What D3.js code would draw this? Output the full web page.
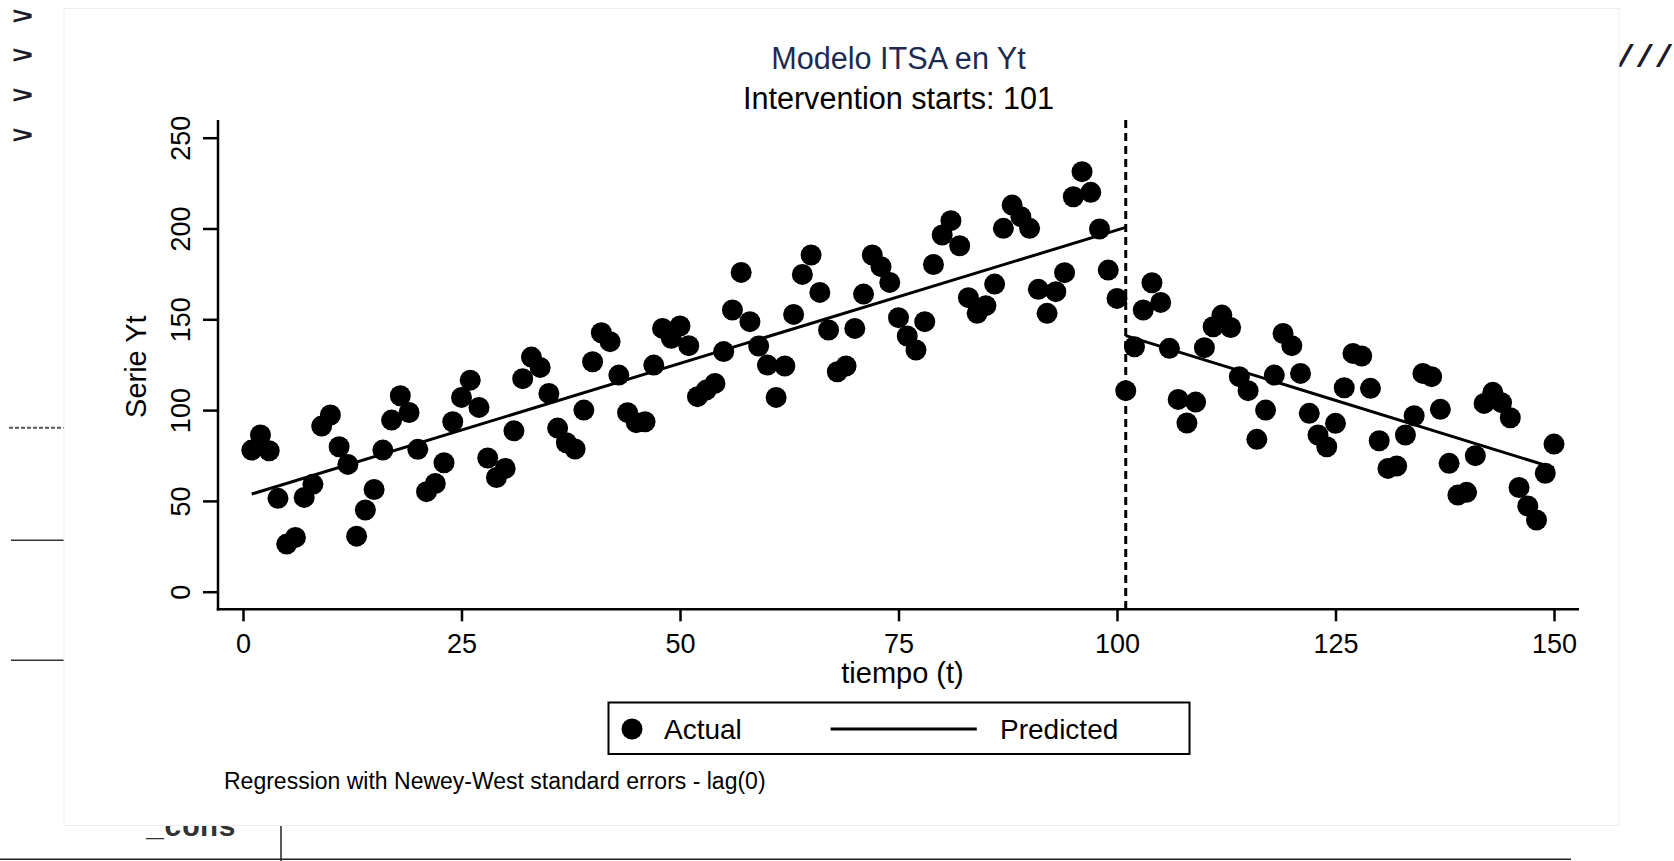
<!DOCTYPE html>
<html>
<head>
<meta charset="utf-8">
<script src="https://cdn.jsdelivr.net/npm/d3@7"></script>
<style>
  html, body { margin: 0; padding: 0; background: #ffffff; }
  svg { display: block; }
  text { font-family: "Liberation Sans", Arial, Helvetica, sans-serif; }
  .console { font-family: "Liberation Mono", "DejaVu Sans Mono", monospace; font-weight: bold; }
  .prompt { font-family: "Liberation Sans", Arial, sans-serif; font-weight: bold; }
</style>
</head>
<body>
<svg id="chart" width="1674" height="861"></svg>
<script>
// ---- data -------------------------------------------------------------
// Observed series Yt, one value per period t = 1..150
const actualYt = [
  78.0, 86.3, 77.6, 51.4, 26.2, 29.9, 51.9, 59.1, 91.2, 97.3,
  79.8, 70.1, 30.6, 45.0, 56.3, 78.0, 94.5, 107.9, 98.7, 78.4,
  55.1, 59.6, 71.0, 93.6, 107.0, 116.5, 101.5, 73.6, 62.9, 67.9,
  88.6, 117.3, 129.2, 123.5, 109.2, 90.1, 82.0, 78.6, 100.0, 126.6,
  142.6, 137.7, 119.3, 98.6, 93.1, 93.6, 124.8, 145.0, 139.5, 146.3,
  135.5, 107.4, 111.0, 114.7, 132.2, 155.1, 175.8, 148.7, 135.3, 124.8,
  107.0, 124.3, 152.7, 174.7, 185.4, 164.8, 144.1, 121.1, 124.3, 145.0,
  163.9, 185.4, 179.0, 170.3, 150.9, 140.8, 133.1, 148.7, 180.2, 196.4,
  204.3, 190.5, 161.9, 153.3, 157.5, 169.4, 200.1, 212.9, 206.5, 200.1,
  166.5, 153.3, 165.2, 175.7, 217.5, 231.3, 219.9, 199.7, 177.1, 161.5,
  110.7, 134.9, 155.1, 170.1, 159.3, 134.0, 105.9, 92.9, 104.4, 134.4,
  145.9, 152.3, 145.5, 118.4, 110.7, 83.9, 100.0, 119.3, 142.2, 135.5,
  120.2, 98.2, 86.3, 79.8, 92.7, 112.3, 131.2, 129.8, 112.0, 83.1,
  67.9, 69.2, 86.3, 96.9, 120.2, 118.4, 100.4, 70.7, 53.2, 54.7,
  74.9, 103.7, 109.8, 104.1, 95.8, 57.4, 47.2, 39.5, 65.2, 81.3
];
const periods = d3.range(1, actualYt.length + 1);

// Fitted segments (pre- and post-intervention), endpoints of each line
const predPreT  = [1, 101];
const predPreY  = [53.8, 200.6];
const predPostT = [101, 150];
const predPostY = [141.0, 68.2];

const interventionT = 101;

const xTicks = [0, 25, 50, 75, 100, 125, 150];
const yTicks = [0, 50, 100, 150, 200, 250];

const titleText    = "Modelo ITSA en Yt";
const subtitleText = "Intervention starts: 101";
const xTitle = "tiempo (t)";
const yTitle = "Serie Yt";
const legendLabels = ["Actual", "Predicted"];
const noteText = "Regression with Newey-West standard errors - lag(0)";

// ---- layout -------------------------------------------------------------
const svg = d3.select("#chart");
const plot = { left: 218, right: 1579, top: 120, bottom: 609.3 };

const x = d3.scaleLinear().domain([0, 150]).range([243, 1554]);
const y = d3.scaleLinear().domain([0, 250]).range([591.7, 137.7]);

// ---- console text behind the graph window ------------------------------
const bg = svg.append("g").attr("class", "console-bg");
[18, 57, 97, 137].forEach(cy => {
  bg.append("text").attr("class", "prompt")
    .attr("transform", `translate(12,${cy + 6.4}) scale(1.2,0.8)`)
    .attr("font-size", 30).attr("fill", "#1b1b2a").text(">");
});
bg.append("text").attr("class", "console")
  .attr("x", 1616).attr("y", 67)
  .attr("font-size", 32).attr("fill", "#1b1b2a").text("///");
bg.append("line").attr("x1", 9).attr("x2", 64).attr("y1", 427.7).attr("y2", 427.7)
  .attr("stroke", "#555").attr("stroke-width", 2).attr("stroke-dasharray", "4,2");
[540.3, 660.3].forEach(ly => {
  bg.append("line").attr("x1", 11).attr("x2", 64).attr("y1", ly).attr("y2", ly)
    .attr("stroke", "#333").attr("stroke-width", 1.5);
});
bg.append("text").attr("class", "console")
  .attr("x", 146).attr("y", 836).attr("font-size", 30).attr("fill", "#333").text("_cons");
bg.append("line").attr("x1", 281).attr("x2", 281).attr("y1", 820).attr("y2", 861)
  .attr("stroke", "#222").attr("stroke-width", 1.5);
bg.append("line").attr("x1", 0).attr("x2", 1571).attr("y1", 859.3).attr("y2", 859.3)
  .attr("stroke", "#222").attr("stroke-width", 1.5);

// ---- graph window -------------------------------------------------------
svg.append("rect")
  .attr("x", 64).attr("y", 8.5).attr("width", 1555).attr("height", 817)
  .attr("fill", "#ffffff").attr("stroke", "#eeeeee").attr("stroke-width", 1);

// ---- titles -------------------------------------------------------------
const cx = (plot.left + plot.right) / 2;
svg.append("text").attr("x", cx).attr("y", 69.3)
  .attr("text-anchor", "middle").attr("font-size", 30.6).attr("fill", "#1d2b4f")
  .text(titleText);
svg.append("text").attr("x", cx).attr("y", 109)
  .attr("text-anchor", "middle").attr("font-size", 30.6).attr("fill", "#000")
  .text(subtitleText);

// ---- axes ---------------------------------------------------------------
const yAxis = svg.append("g").attr("transform", `translate(${plot.left},0)`)
  .call(d3.axisLeft(y).tickValues(yTicks).tickSize(15).tickFormat(d3.format("d")));
yAxis.select(".domain").remove();
yAxis.selectAll(".tick line").attr("stroke", "#000").attr("stroke-width", 2.5);
yAxis.selectAll(".tick text")
  .attr("x", null).attr("dy", null)
  .attr("text-anchor", "middle")
  .attr("transform", "translate(-28.5,0) rotate(-90)")
  .attr("font-size", 27).attr("fill", "#000")
  .style("font-family", '"Liberation Sans", Arial, sans-serif');

const xAxis = svg.append("g").attr("transform", `translate(0,${plot.bottom})`)
  .call(d3.axisBottom(x).tickValues(xTicks).tickSize(12).tickFormat(d3.format("d")));
xAxis.select(".domain").remove();
xAxis.selectAll(".tick line").attr("stroke", "#000").attr("stroke-width", 2.5);
xAxis.selectAll(".tick text")
  .attr("y", 44.2).attr("dy", null)
  .attr("font-size", 27).attr("fill", "#000")
  .style("font-family", '"Liberation Sans", Arial, sans-serif');

// axis lines spanning the plot region
svg.append("line").attr("x1", plot.left).attr("x2", plot.left)
  .attr("y1", plot.top).attr("y2", plot.bottom + 1.2)
  .attr("stroke", "#000").attr("stroke-width", 2.5);
svg.append("line").attr("x1", plot.left - 1.2).attr("x2", plot.right)
  .attr("y1", plot.bottom).attr("y2", plot.bottom)
  .attr("stroke", "#000").attr("stroke-width", 2.5);

svg.append("text")
  .attr("transform", `translate(146,${(plot.top + plot.bottom) / 2 + 2}) rotate(-90)`)
  .attr("text-anchor", "middle").attr("font-size", 29).text(yTitle);
svg.append("text").attr("x", cx + 4).attr("y", 683)
  .attr("text-anchor", "middle").attr("font-size", 29).text(xTitle);

// ---- intervention line --------------------------------------------------
svg.append("line")
  .attr("x1", x(interventionT)).attr("x2", x(interventionT))
  .attr("y1", plot.top).attr("y2", plot.bottom)
  .attr("stroke", "#000").attr("stroke-width", 3).attr("stroke-dasharray", "8,5");

// ---- points -------------------------------------------------------------
svg.append("g").selectAll("circle")
  .data(periods)
  .join("circle")
  .attr("cx", t => x(t))
  .attr("cy", t => y(actualYt[t - 1]))
  .attr("r", 10.5)
  .attr("fill", "#000");

// ---- fitted lines -------------------------------------------------------
const line = d3.line().x(d => x(d[0])).y(d => y(d[1]));
[[predPreT, predPreY], [predPostT, predPostY]].forEach(([ts, vs]) => {
  svg.append("path")
    .datum(ts.map((t, i) => [t, vs[i]]))
    .attr("d", line)
    .attr("fill", "none").attr("stroke", "#000").attr("stroke-width", 3);
});

// ---- legend -------------------------------------------------------------
const lg = svg.append("g");
lg.append("rect").attr("x", 608.5).attr("y", 702.5).attr("width", 581).attr("height", 51.5)
  .attr("fill", "#fff").attr("stroke", "#000").attr("stroke-width", 2);
lg.append("circle").attr("cx", 632).attr("cy", 729).attr("r", 10.5).attr("fill", "#000");
lg.append("text").attr("x", 664).attr("y", 739).attr("font-size", 28).text(legendLabels[0]);
lg.append("line").attr("x1", 830.6).attr("x2", 976.8).attr("y1", 729).attr("y2", 729)
  .attr("stroke", "#000").attr("stroke-width", 3);
lg.append("text").attr("x", 1000).attr("y", 739).attr("font-size", 28).text(legendLabels[1]);

// ---- note ---------------------------------------------------------------
svg.append("text").attr("x", 224).attr("y", 789).attr("font-size", 23).text(noteText);
</script>
</body>
</html>
